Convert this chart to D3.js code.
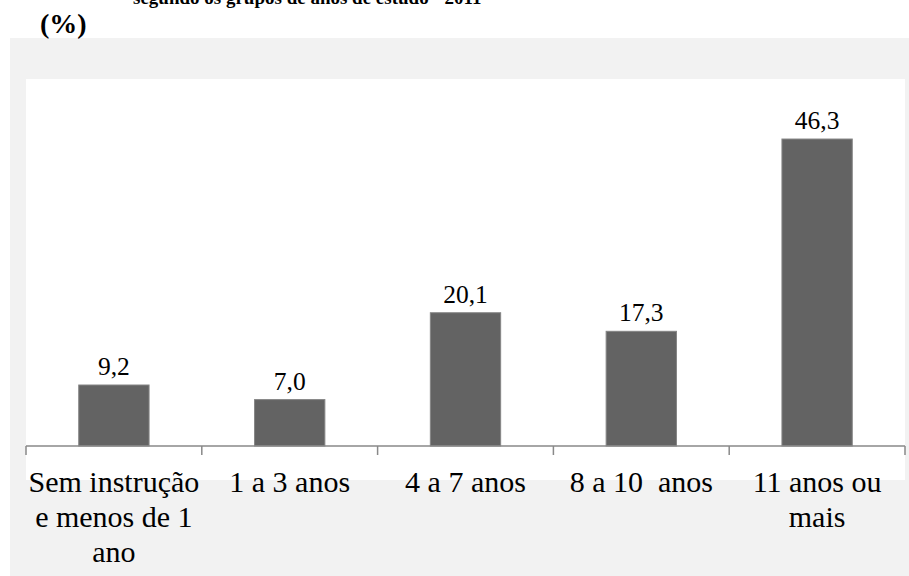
<html>
<head>
<meta charset="utf-8">
<script src="https://cdn.jsdelivr.net/npm/d3@7"></script>
</head>
<body style="margin:0">
<svg id="chart" width="909" height="576"></svg>
<script>
const titleText = "segundo os grupos de anos de estudo - 2011";
const unitLabel = "(%)";
const categories = [
  "Sem instrução\ne menos de 1\nano",
  "1 a 3 anos",
  "4 a 7 anos",
  "8 a 10  anos",
  "11 anos ou\nmais"
];
const values = [9.2, 7.0, 20.1, 17.3, 46.3];
const yDomain = [0, 50];

const FONT = '"Liberation Serif"';
const svg = d3.select("#chart");

// Backgrounds
svg.append("rect").attr("x", 10).attr("y", 38).attr("width", 899).attr("height", 538).attr("fill", "#f2f2f2");
svg.append("rect").attr("x", 26).attr("y", 79).attr("width", 879).attr("height", 401).attr("fill", "#ffffff");

// Title (cut at top, as in the reference) and unit
svg.append("text").attr("x", 133).attr("y", 4)
  .style("font-family", FONT)
  .style("font-weight", "bold").attr("font-size", 19).attr("fill", "#000")
  .text(titleText);
svg.append("text").attr("x", 40).attr("y", 33)
  .style("font-family", FONT)
  .style("font-weight", "bold").attr("font-size", 28).attr("fill", "#000")
  .text(unitLabel);

const x = d3.scaleBand().domain(categories).range([26, 905]).paddingInner(0.6).paddingOuter(0.3);
const baseY = 446;
const y = d3.scaleLinear().domain(yDomain).range([baseY, baseY - 331.5]);

// Bars
svg.append("g").selectAll("rect").data(values).join("rect")
  .attr("x", (d, i) => x(categories[i]))
  .attr("width", x.bandwidth())
  .attr("y", d => y(d))
  .attr("height", d => y(0) - y(d))
  .attr("fill", "#636363")
  .attr("stroke", "#858585")
  .attr("stroke-width", 1);

// Value labels
svg.append("g").selectAll("text").data(values).join("text")
  .attr("x", (d, i) => x(categories[i]) + x.bandwidth() / 2)
  .attr("y", d => y(d) - 10)
  .attr("text-anchor", "middle")
  .style("font-family", FONT)
  .attr("font-size", 25.5)
  .attr("fill", "#000")
  .text(d => d.toFixed(1).replace(".", ","));

// Axis line and ticks at band boundaries
const axis = svg.append("g");
axis.append("line").attr("x1", 26).attr("x2", 905).attr("y1", baseY).attr("y2", baseY)
  .attr("stroke", "#898989").attr("stroke-width", 1.5);
const boundaries = d3.range(categories.length + 1).map(i => x.range()[0] + i * ((x.range()[1] - x.range()[0]) / categories.length));
axis.selectAll("line.tick").data(boundaries).join("line").attr("class", "tick")
  .attr("x1", d => d).attr("x2", d => d)
  .attr("y1", baseY).attr("y2", baseY + 9)
  .attr("stroke", "#898989").attr("stroke-width", 1.5);

// Category labels
const catG = svg.append("g");
categories.forEach((c, i) => {
  const cx = x(c) + x.bandwidth() / 2;
  const t = catG.append("text")
    .attr("x", cx).attr("y", 492)
    .attr("text-anchor", "middle")
    .style("font-family", FONT)
    .attr("font-size", 30)
    .attr("fill", "#000")
    .attr("xml:space", "preserve");
  c.split("\n").forEach((line, j) => {
    t.append("tspan").attr("x", cx).attr("dy", j === 0 ? 0 : 35).text(line);
  });
});
</script>
</body>
</html>
